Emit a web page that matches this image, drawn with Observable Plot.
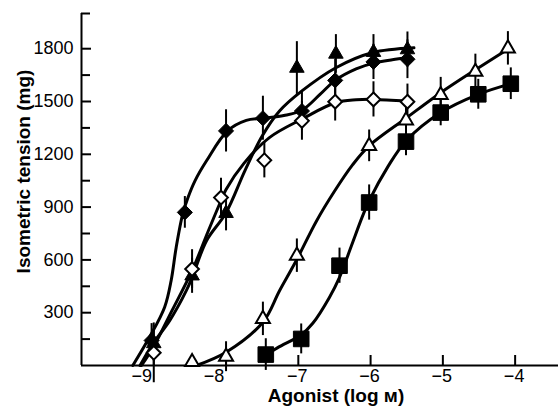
<!DOCTYPE html>
<html>
<head>
<meta charset="utf-8">
<script src="https://cdn.jsdelivr.net/npm/d3@7"></script>
<script src="https://cdn.jsdelivr.net/npm/@observablehq/plot@0.6"></script>
<style>
  html, body { margin: 0; padding: 0; background: #fff; }
  #chart { width: 558px; height: 407px; }
</style>
</head>
<body>
<div id="chart"></div>
<script>
// ---- Data ----
// Filled diamonds
const fdX = [-9.03, -8.57, -8.0, -7.49, -6.95, -6.49, -5.96, -5.49];
const fdY = [142, 870, 1333, 1405, 1446, 1620, 1725, 1740];
const fdErr = [96, 90, 120, 125, 110, 120, 100, 110];
// Filled triangles
const ftX = [-9.0, -8.47, -8.0, -7.02, -6.48, -5.96, -5.49];
const ftY = [125, 510, 865, 1690, 1770, 1780, 1795];
const ftErr = [100, 100, 100, 150, 110, 100, 100];
// Open diamonds
const odX = [-9.0, -8.47, -8.07, -7.47, -6.95, -6.49, -5.96, -5.49];
const odY = [72, 548, 954, 1166, 1390, 1499, 1512, 1499];
const odErr = [170, 110, 110, 100, 110, 110, 100, 100];
// Open triangles
const otX = [-8.47, -8.0, -7.49, -7.02, -6.02, -5.51, -5.03, -4.55, -4.1];
const otY = [20, 50, 265, 624, 1248, 1393, 1537, 1669, 1802];
const otErr = [0, 85, 95, 95, 90, 90, 100, 100, 95];
// Filled squares
const sqX = [-7.45, -6.96, -6.43, -6.02, -5.51, -5.03, -4.51, -4.06];
const sqY = [62, 151, 567, 926, 1272, 1437, 1541, 1601];
const sqErr = [90, 85, 100, 100, 80, 75, 85, 90];

// Fitted curves
const fdCurveX = [-9.29, -9.06, -8.85, -8.76, -8.69, -8.6, -8.53, -8.43, -8.27, -7.98, -7.72, -7.49, -7.2, -6.95, -6.7, -6.49, -6.2, -5.96, -5.7, -5.49];
const fdCurveY = [0, 160, 331, 482, 671, 860, 950, 1049, 1163, 1333, 1393, 1405, 1420, 1450, 1540, 1620, 1685, 1718, 1737, 1748];
const ftCurveX = [-9.19, -9.01, -8.78, -8.55, -8.46, -8.27, -8.0, -7.74, -7.5, -7.26, -6.95, -6.48, -5.98, -5.4];
const ftCurveY = [0, 125, 255, 425, 510, 709, 868, 1106, 1304, 1446, 1560, 1692, 1777, 1805];
const odCurveX = [-9.17, -9.0, -8.75, -8.47, -8.25, -8.07, -8.0, -7.75, -7.4, -6.95, -6.48, -6.2, -5.96, -5.49];
const odCurveY = [0, 110, 310, 539, 760, 936, 1000, 1150, 1295, 1400, 1494, 1510, 1512, 1503];
const otCurveX = [-8.41, -8.0, -7.49, -7.26, -7.03, -6.75, -6.5, -6.25, -6.02, -5.51, -5.03, -4.55, -4.09];
const otCurveY = [0, 75, 246, 425, 595, 820, 990, 1140, 1248, 1405, 1550, 1680, 1800];
const sqCurveX = [-7.5, -7.29, -6.96, -6.8, -6.57, -6.43, -6.27, -6.11, -6.02, -5.76, -5.51, -5.03, -4.51, -4.06];
const sqCurveY = [45, 100, 175, 240, 387, 501, 675, 850, 936, 1130, 1276, 1437, 1541, 1601];

// Axis ticks and labels
const xTicks = [-9, -8, -7, -6, -5, -4];
const xTickLabels = ["−9", "−8", "−7", "−6", "−5", "−4"];
const yTicks = [300, 600, 900, 1200, 1500, 1800];
const yTickLabels = ["300", "600", "900", "1200", "1500", "1800"];
const yMinorTicks = [150, 450, 750, 1050, 1350, 1650, 2000];
const xTitle = "Agonist (log ᴍ)";
const yTitle = "Isometric tension (mg)";

// ---- Build tables ----
const table = (xs, ys, es) => xs.map((x, i) => ({x, y: ys[i], lo: ys[i] - es[i], hi: ys[i] + es[i], e: es[i]}));
const curve = (xs, ys) => xs.map((x, i) => ({x, y: ys[i]}));
const fd = table(fdX, fdY, fdErr), ft = table(ftX, ftY, ftErr), od = table(odX, odY, odErr),
      ot = table(otX, otY, otErr), sq = table(sqX, sqY, sqErr);
const curves = [curve(fdCurveX, fdCurveY), curve(ftCurveX, ftCurveY), curve(odCurveX, odCurveY),
                curve(otCurveX, otCurveY), curve(sqCurveX, sqCurveY)];

const W = 558, H = 407, mL = 81, mR = 0, mT = 13, mB = 42;
const plotW = W - mL - mR, plotH = H - mT - mB;
const font = "'Liberation Sans', Arial, Helvetica, sans-serif";
const xLab = d => xTickLabels[xTicks.indexOf(d)];
const yLab = d => yTickLabels[yTicks.indexOf(d)];

const errBars = t => Plot.ruleX(t.filter(d => d.e > 0), {x: "x", y1: "lo", y2: "hi", stroke: "black", strokeWidth: 2});

const chart = Plot.plot({
  width: W, height: H,
  marginLeft: mL, marginRight: mR, marginTop: mT, marginBottom: mB,
  style: {fontFamily: font, fontSize: "18px", color: "black", background: "white"},
  x: {domain: [-10, -3.4], axis: null},
  y: {domain: [0, 2000], axis: null},
  marks: [
    // axis lines
    Plot.ruleX([-10], {stroke: "black", strokeWidth: 2}),
    Plot.ruleY([0], {stroke: "black", strokeWidth: 2}),
    // inward ticks
    Plot.tickX(xTicks, {x: d => d, stroke: "black", strokeWidth: 2, insetTop: plotH - 10}),
    Plot.tickY(yTicks, {y: d => d, stroke: "black", strokeWidth: 2, insetRight: plotW - 10}),
    Plot.tickY(yMinorTicks, {y: d => d, stroke: "black", strokeWidth: 2, insetRight: plotW - 9}),
    // tick labels
    Plot.axisX(xTicks.slice(0, 2), {tickFormat: xLab, tickSize: 0, tickPadding: 4, dx: -12, fontSize: 18, label: null}),
    Plot.axisX(xTicks.slice(2), {tickFormat: xLab, tickSize: 0, tickPadding: 4, dx: -1, fontSize: 18, label: null}),
    Plot.axisY(yTicks, {tickFormat: yLab, tickSize: 0, tickPadding: 8, fontSize: 18, label: null}),
    // titles
    Plot.text([xTitle], {text: d => d, frameAnchor: "bottom", textAnchor: "middle", lineAnchor: "bottom", dy: 36, dx: 16,
      fontSize: 19, fontWeight: "bold", fill: "black"}),
    Plot.text([yTitle], {text: d => d, frameAnchor: "left", textAnchor: "middle", lineAnchor: "middle", rotate: -90, dx: -58, dy: -18,
      fontSize: 19, fontWeight: "bold", fill: "black"}),
    // fitted curves
    ...curves.map(c => Plot.line(c, {x: "x", y: "y", curve: "catmull-rom", stroke: "black", strokeWidth: 3})),
    // error bars
    errBars(fd), errBars(ft), errBars(od), errBars(ot), errBars(sq),
    // markers
    Plot.dot(ft, {x: "x", y: "y", symbol: "triangle", r: 5.4, fill: "black", stroke: "black", strokeWidth: 1}),
    Plot.dot(fd, {x: "x", y: "y", symbol: "diamond2", r: 6.8, fill: "black", stroke: "black", strokeWidth: 1}),
    Plot.dot(od, {x: "x", y: "y", symbol: "diamond2", r: 6.2, fill: "white", stroke: "black", strokeWidth: 2}),
    Plot.dot(ot, {x: "x", y: "y", symbol: "triangle", r: 5.2, fill: "white", stroke: "black", strokeWidth: 2}),
    Plot.dot(sq, {x: "x", y: "y", symbol: "square", r: 8.8, fill: "black", stroke: "black", strokeWidth: 1, strokeLinejoin: "round"})
  ]
});
document.getElementById("chart").appendChild(chart);
</script>
</body>
</html>
